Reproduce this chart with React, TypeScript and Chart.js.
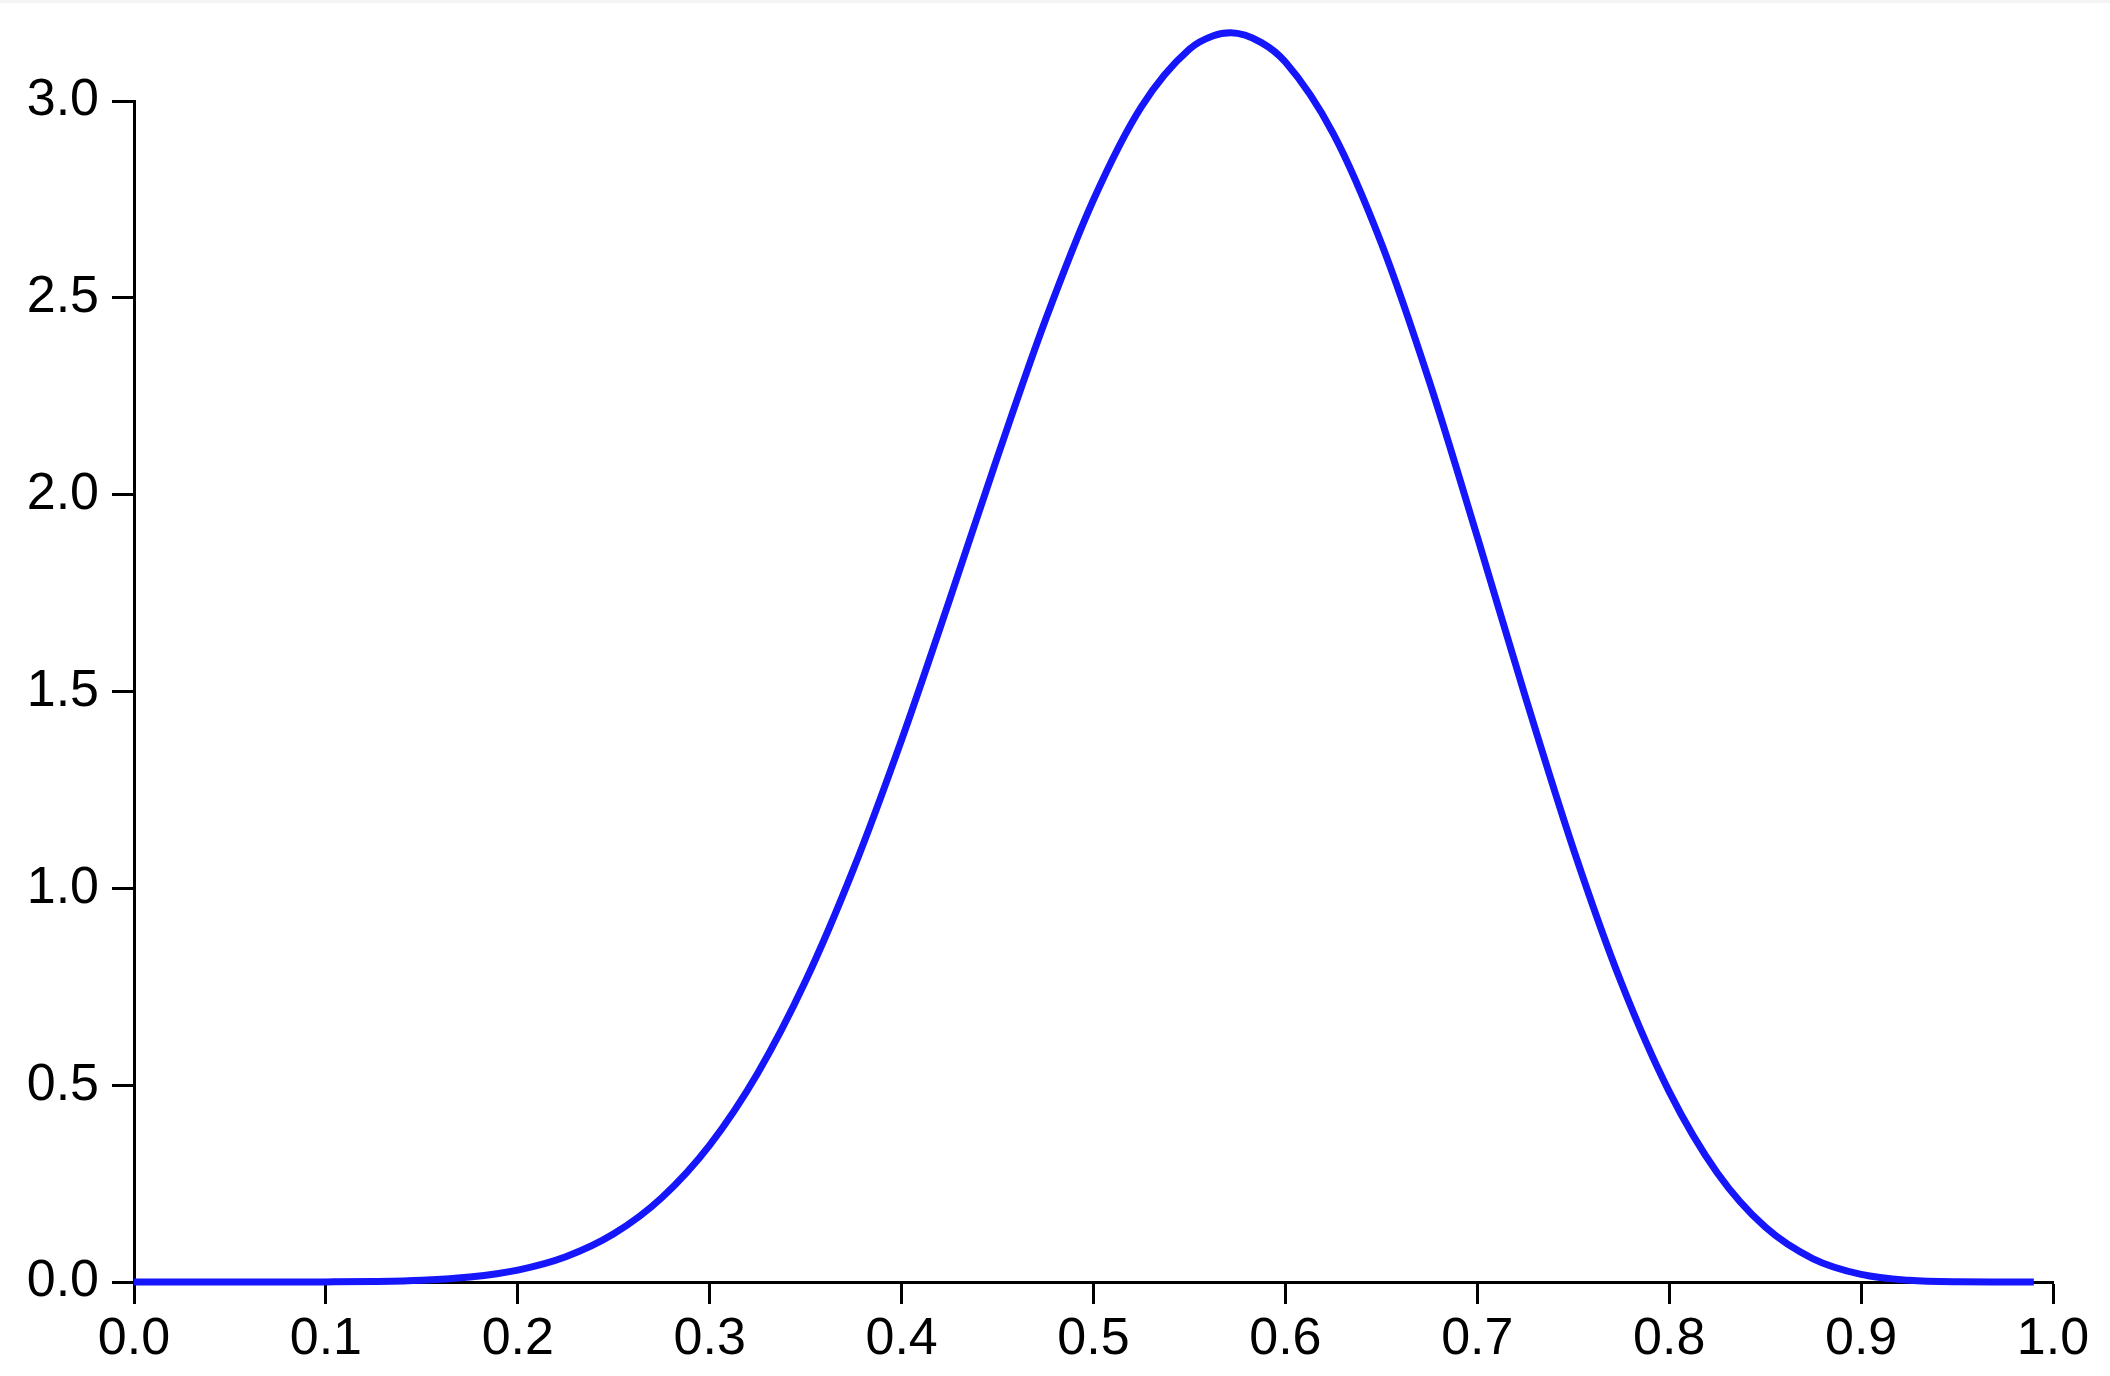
import React, { useEffect, useRef } from "react";
import { Chart, registerables } from "chart.js";

Chart.register(...registerables);

// Density curve values (x, y)
const xValues = [
  0.0, 0.025, 0.05, 0.075, 0.1, 0.125, 0.15, 0.175, 0.2, 0.225, 0.25, 0.275,
  0.3, 0.325, 0.35, 0.375, 0.4, 0.425, 0.45, 0.475, 0.5, 0.525, 0.55, 0.5625,
  0.5714, 0.5875, 0.6, 0.625, 0.65, 0.675, 0.7, 0.725, 0.75, 0.775, 0.8,
  0.825, 0.85, 0.875, 0.9, 0.925, 0.95, 0.975, 0.99,
];
const yValues = [
  0.0, 0.0, 0.0000013, 0.000028, 0.00024, 0.0012, 0.00435, 0.0125, 0.0302,
  0.0641, 0.1223, 0.214, 0.3477, 0.5303, 0.765, 1.05, 1.3773, 1.7329, 2.0967,
  2.4443, 2.7493, 2.986, 3.132, 3.1659, 3.1731, 3.1484, 3.099, 2.9166, 2.6386,
  2.2877, 1.893, 1.4871, 1.101, 0.7606, 0.4837, 0.2777, 0.1398, 0.059, 0.0194,
  0.0043, 0.00047, 0.000009, 0.0,
];
const xTickValues = [0, 0.1, 0.2, 0.3, 0.4, 0.5, 0.6, 0.7, 0.8, 0.9, 1.0];
const yTickValues = [0, 0.5, 1.0, 1.5, 2.0, 2.5, 3.0];

export default function App() {
  const ref = useRef<HTMLCanvasElement | null>(null);

  useEffect(() => {
    document.body.style.margin = "0";
    const canvas = ref.current;
    if (!canvas) return;
    const points = xValues.map((x, i) => ({ x, y: yValues[i] }));
    const font = { family: "'Liberation Sans', Arial, Helvetica, sans-serif", size: 52 };
    const chart = new Chart(canvas, {
      type: "line",
      data: {
        datasets: [
          {
            data: points,
            borderColor: "rgb(22,22,252)",
            borderWidth: 7,
            pointRadius: 0,
            fill: false,
            cubicInterpolationMode: "monotone",
            clip: false as any,
          },
        ],
      },
      options: {
        animation: false,
        responsive: false,
        maintainAspectRatio: false,
        layout: { padding: { top: 101, right: 57, left: 0, bottom: 0 } },
        plugins: { legend: { display: false }, tooltip: { enabled: false } },
        scales: {
          x: {
            type: "linear",
            min: 0,
            max: 1,
            afterBuildTicks: (scale: any) => {
              scale.ticks = xTickValues.map((v) => ({ value: v }));
            },
            afterFit: (scale: any) => {
              scale.height = 94;
            },
            ticks: {
              color: "#000",
              font,
              padding: 4,
              maxRotation: 0,
              autoSkip: false,
              callback: (v: any) => Number(v).toFixed(1),
            },
            grid: {
              display: true,
              drawOnChartArea: false,
              drawTicks: true,
              tickLength: 22,
              tickWidth: 3,
              tickColor: "#000",
            },
            border: { display: true, color: "#000", width: 3 },
          },
          y: {
            type: "linear",
            min: 0,
            max: 3,
            afterBuildTicks: (scale: any) => {
              scale.ticks = yTickValues.map((v) => ({ value: v }));
            },
            afterFit: (scale: any) => {
              scale.width = 134;
            },
            ticks: {
              color: "#000",
              font,
              padding: 13,
              autoSkip: false,
              callback: (v: any) => Number(v).toFixed(1),
            },
            grid: {
              display: true,
              drawOnChartArea: false,
              drawTicks: true,
              tickLength: 22,
              tickWidth: 3,
              tickColor: "#000",
            },
            border: { display: true, color: "#000", width: 3 },
          },
        },
      },
    });
    return () => chart.destroy();
  }, []);

  return (
    <div style={{ position: "absolute", left: 0, top: 0, width: 2110, height: 1376, background: "#fff" }}>
      <canvas ref={ref} width={2110} height={1376} style={{ width: 2110, height: 1376, display: "block" }} />
      <div style={{ position: "absolute", left: 0, top: 0, width: 2110, height: 3, background: "#f4f4f4" }} />
    </div>
  );
}
